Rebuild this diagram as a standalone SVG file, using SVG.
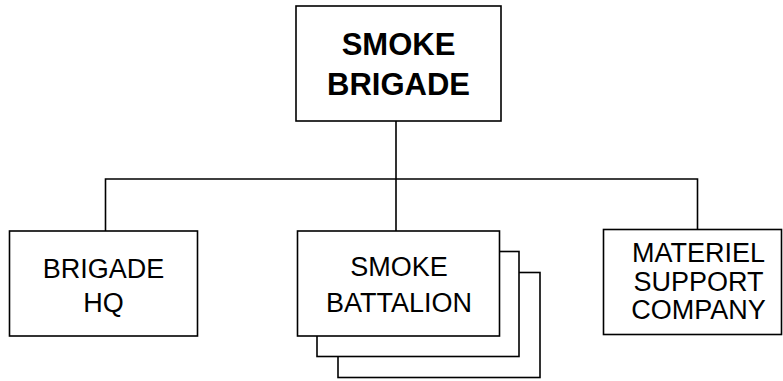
<svg xmlns="http://www.w3.org/2000/svg" width="783" height="381" viewBox="0 0 783 381">
<style>
.box{fill:#fff;stroke:#000;stroke-width:1.6}
.ln{fill:none;stroke:#000;stroke-width:1.6}
text{font-family:"Liberation Sans",Arial,sans-serif;fill:#000;text-anchor:middle}
.b{font-weight:bold;font-size:31px}
.n{font-size:27px}
</style>
<rect width="783" height="381" fill="#fff"/>
<g id="connectors">
<path class="ln" d="M396 121V179M105.5 231V179H697.5V229.5M396 179V231"/>
</g>
<g id="smoke-brigade">
<rect class="box" x="296" y="6" width="205" height="115"/>
<text class="b" x="398.5" y="55">SMOKE</text>
<text class="b" x="398.5" y="95">BRIGADE</text>
</g>
<g id="brigade-hq">
<rect class="box" x="9.5" y="231" width="188" height="105"/>
<text class="n" x="103.5" y="278">BRIGADE</text>
<text class="n" x="103.5" y="312">HQ</text>
</g>
<g id="smoke-battalion">
<rect class="box" x="338" y="272.5" width="202" height="105"/>
<rect class="box" x="317" y="251.5" width="202" height="105"/>
<rect class="box" x="297.5" y="231" width="202" height="105"/>
<text class="n" x="399" y="276">SMOKE</text>
<text class="n" x="399" y="312">BATTALION</text>
</g>
<g id="materiel-support-company">
<rect class="box" x="603.5" y="229.5" width="178" height="105"/>
<text class="n" x="698.5" y="262">MATERIEL</text>
<text class="n" x="698.5" y="291">SUPPORT</text>
<text class="n" x="698.5" y="319">COMPANY</text>
</g>
</svg>
